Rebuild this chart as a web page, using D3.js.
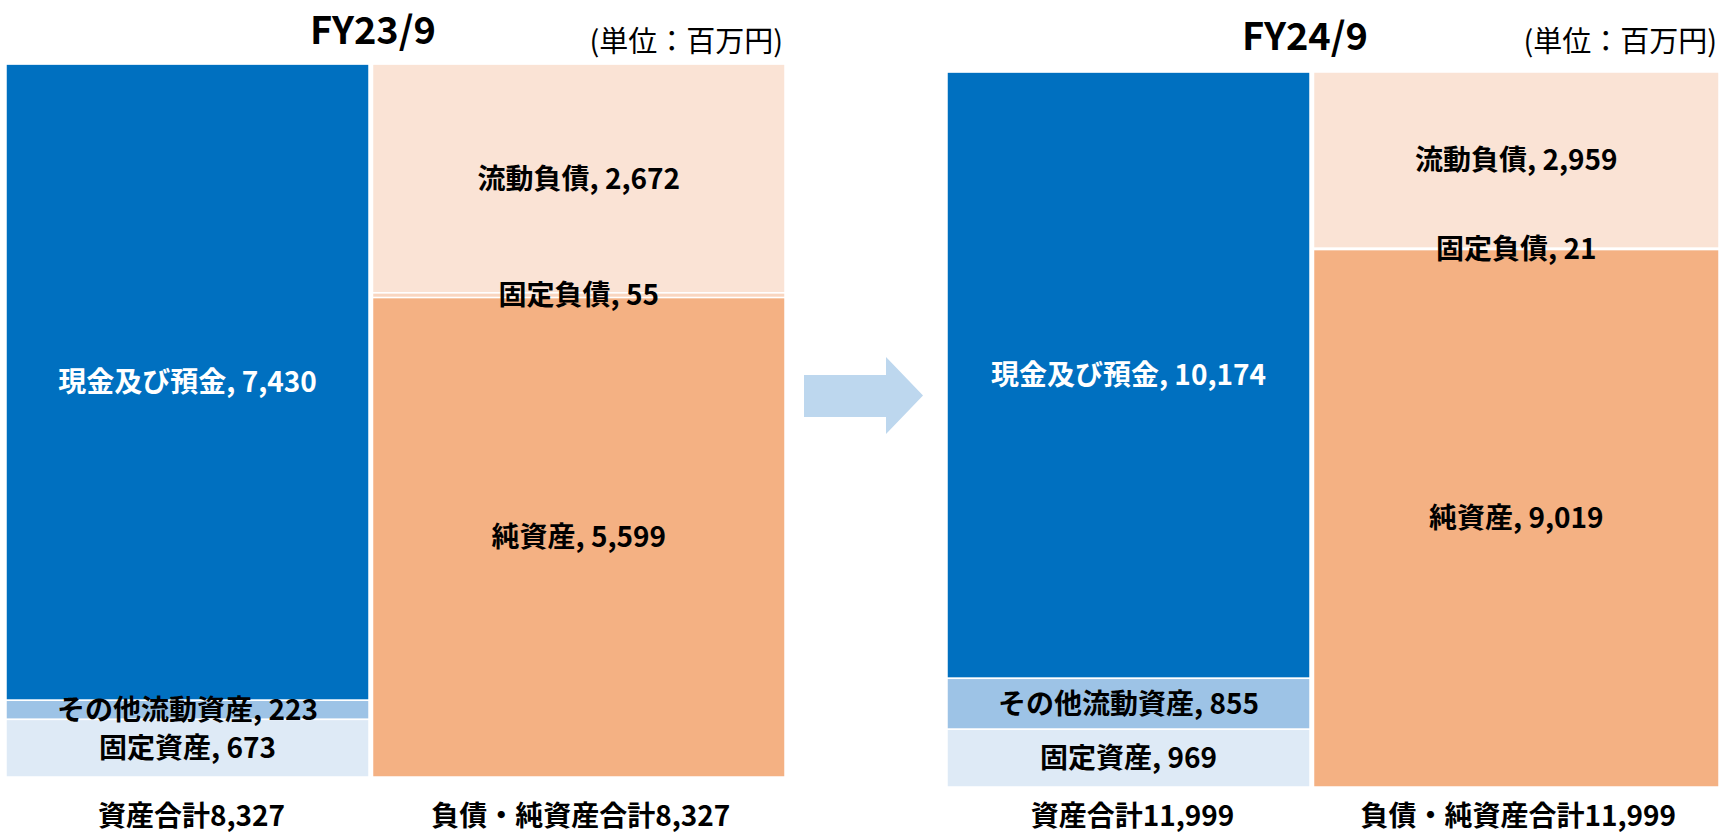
<!DOCTYPE html>
<html>
<head>
<meta charset="utf-8">
<script src="https://cdn.jsdelivr.net/npm/d3@7"></script>
<style>
  html, body { margin: 0; padding: 0; background: #fff; }
  svg { display: block; }
  text { font-family: "Noto Sans CJK JP", "Noto Sans", sans-serif; }
</style>
</head>
<body>
<script>
// data
const periods = ["FY23/9", "FY24/9"];
const unitLabel = "(単位：百万円)";
const assetNames = ["現金及び預金", "その他流動資産", "固定資産"];
const assetValues23 = [7430, 223, 673];
const assetValues24 = [10174, 855, 969];
const liabNames = ["流動負債", "固定負債", "純資産"];
const liabValues23 = [2672, 55, 5599];
const liabValues24 = [2959, 21, 9019];
const assetTotals = [8327, 11999];
const liabTotals = [8327, 11999];

const assetColors = ["#0070C0", "#9DC3E6", "#DEEAF6"];
const liabColors = ["#FAE3D5", "#F9D6C0", "#F4B183"];
const assetText = ["#fff", "#000", "#000"];

const w = 1719, h = 833;
const svg = d3.select("body").append("svg").attr("width", w).attr("height", h);

// layout of the two panels (asset column, liability column)
const panels = [
  {ax: [6, 369], lx: [372.5, 785], top: 64, bottom: 777, titleX: 373, titleY: 44, assets: assetValues23, liabs: liabValues23},
  {ax: [947, 1310], lx: [1313.5, 1719], top: 72, bottom: 787, titleX: 1305, titleY: 50, assets: assetValues24, liabs: liabValues24}
];

const fmt = d3.format(",");

// stack from the top down
function stackTop(vals) {
  let acc = 0;
  const total = d3.sum(vals);
  return vals.map(v => { const s = {hi: total - acc, lo: total - acc - v, v: v}; acc += v; return s; });
}

panels.forEach((p, i) => {
  const g = svg.append("g");
  const yA = d3.scaleLinear().domain([0, assetTotals[i]]).range([p.bottom, p.top]);
  const yL = d3.scaleLinear().domain([0, liabTotals[i]]).range([p.bottom, p.top]);
  const aStack = stackTop(p.assets);
  const lStack = stackTop(p.liabs);
  const aMid = (p.ax[0] + p.ax[1]) / 2, lMid = (p.lx[0] + p.lx[1]) / 2;

  g.selectAll("rect.a").data(aStack).enter().append("rect")
    .attr("x", p.ax[0])
    .attr("width", p.ax[1] - p.ax[0])
    .attr("y", d => yA(d.hi))
    .attr("height", d => yA(d.lo) - yA(d.hi))
    .attr("fill", (d, j) => assetColors[j])
    .attr("stroke", "#fff").attr("stroke-width", 1.5);

  g.selectAll("rect.l").data(lStack).enter().append("rect")
    .attr("x", p.lx[0])
    .attr("width", p.lx[1] - p.lx[0])
    .attr("y", d => yL(d.hi))
    .attr("height", d => yL(d.lo) - yL(d.hi))
    .attr("fill", (d, j) => liabColors[j])
    .attr("stroke", "#fff").attr("stroke-width", 1.5);

  // segment labels
  g.selectAll("text.a").data(aStack).enter().append("text")
    .attr("x", aMid)
    .attr("y", d => (yA(d.hi) + yA(d.lo)) / 2)
    .attr("dy", "0.36em")
    .attr("text-anchor", "middle")
    .attr("font-size", 28).attr("font-weight", 700)
    .attr("fill", (d, j) => assetText[j])
    .text((d, j) => assetNames[j] + ", " + fmt(d.v));

  g.selectAll("text.l").data(lStack).enter().append("text")
    .attr("x", lMid)
    .attr("y", d => (yL(d.hi) + yL(d.lo)) / 2)
    .attr("dy", "0.36em")
    .attr("text-anchor", "middle")
    .attr("font-size", 28).attr("font-weight", 700)
    .attr("fill", "#000")
    .text((d, j) => liabNames[j] + ", " + fmt(d.v));

  // title and unit
  g.append("text")
    .attr("x", p.titleX)
    .attr("y", p.titleY)
    .attr("text-anchor", "middle")
    .attr("font-size", 38).attr("font-weight", 700)
    .text(periods[i]);

  g.append("text")
    .attr("x", p.lx[1] - 2)
    .attr("y", 52)
    .attr("text-anchor", "end")
    .attr("font-size", 29).attr("font-weight", 400)
    .text(unitLabel);

  // totals under the columns
  g.append("text")
    .attr("x", aMid + 4)
    .attr("y", 826)
    .attr("text-anchor", "middle")
    .attr("font-size", 28).attr("font-weight", 700)
    .text("資産合計" + fmt(assetTotals[i]));
  g.append("text")
    .attr("x", lMid + 2)
    .attr("y", 826)
    .attr("text-anchor", "middle")
    .attr("font-size", 28).attr("font-weight", 700)
    .text("負債・純資産合計" + fmt(liabTotals[i]));
});

// arrow between the two years
const arrow = [[804, 375], [886, 375], [886, 357], [923, 395.5], [886, 434], [886, 417], [804, 417]];
svg.append("polygon")
  .attr("points", arrow.map(d => d.join(",")).join(" "))
  .attr("fill", "#BDD7EE");
</script>
</body>
</html>
